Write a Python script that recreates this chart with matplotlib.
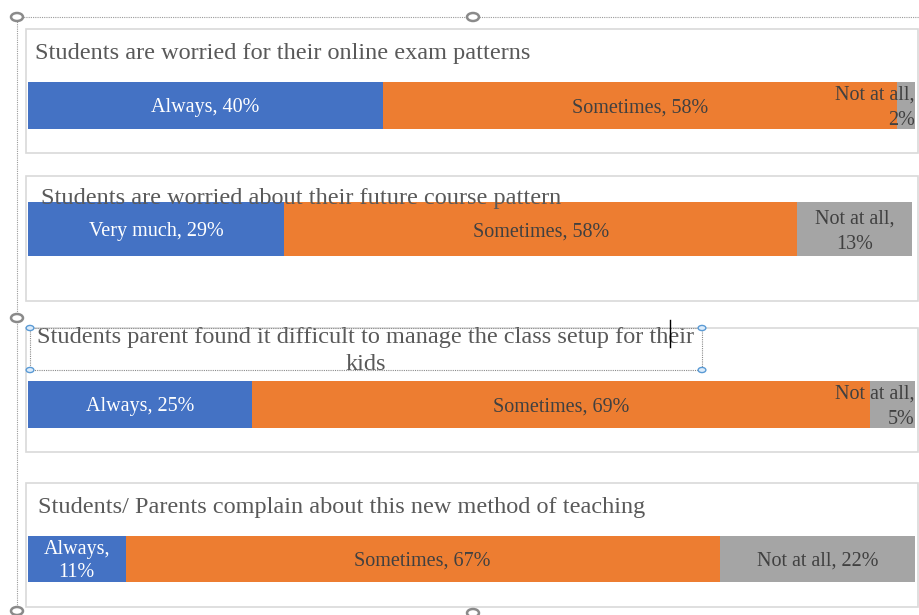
import matplotlib.pyplot as plt
from matplotlib.patches import Rectangle, Circle
from matplotlib.lines import Line2D

W, H = 920, 615

BLUE = "#4472C4"
ORANGE = "#ED7D31"
GRAY = "#A5A5A5"
TXT = "#595959"
LBL = "#404040"

TITLES = [
    "Students are worried for their online exam patterns",
    "Students are worried about their future course pattern",
    "Students parent found it difficult to manage the class setup for their\nkids",
    "Students/ Parents complain about this new method of teaching",
]
FIRST_NAMES = ["Always", "Very much", "Always", "Always"]
ALWAYS = [40, 29, 25, 11]
SOMETIMES = [58, 58, 69, 67]
NOT_AT_ALL = [2, 13, 5, 22]

# pixel layout of each panel: box top/bottom, bar top/bottom/right, title (x, y, ha)
BOXES = [(29, 153), (176, 301), (328, 452), (483, 607)]
BARS = [(82, 129, 915), (202, 256, 912), (381, 428, 915), (536, 582, 915)]
TITLE_POS = [(35, 54, "left"), (41, 199, "left"), (366, 351, "center"), (38, 507, "left")]

plt.rcParams["font.family"] = ["Liberation Serif", "DejaVu Serif"]

fig = plt.figure(figsize=(W / 100, H / 100), dpi=100)


def fx(x):
    return x / W


def fy(y):
    return 1 - y / H


# selection frame of the document (dotted)
fig.add_artist(Line2D([fx(17), fx(920)], [fy(17), fy(17)], transform=fig.transFigure,
                      color="#9a9a9a", lw=0.8, ls=(0, (1, 1))))
fig.add_artist(Line2D([fx(17), fx(17)], [fy(17), fy(615)], transform=fig.transFigure,
                      color="#9a9a9a", lw=0.8, ls=(0, (1, 1))))

LS = 1.45
DY = -0.05  # labels sit slightly below the bar centre
for i in range(4):
    top, bot = BOXES[i]
    fig.add_artist(Rectangle((fx(26), fy(bot)), fx(918) - fx(26), fy(top) - fy(bot),
                             transform=fig.transFigure, fill=True, facecolor="white",
                             edgecolor="#d9d9d9", lw=1.2, zorder=1))

    btop, bbot, bright = BARS[i]
    ax = fig.add_axes([fx(28), fy(bbot), fx(bright) - fx(28), fy(btop) - fy(bbot)], zorder=2)
    a, s, n = ALWAYS[i], SOMETIMES[i], NOT_AT_ALL[i]
    total = a + s + n
    ax.barh(0, a, left=0, height=1, color=BLUE, edgecolor="none")
    ax.barh(0, s, left=a, height=1, color=ORANGE, edgecolor="none")
    ax.barh(0, n, left=a + s, height=1, color=GRAY, edgecolor="none")
    ax.set_xlim(0, total)
    ax.set_ylim(-0.5, 0.5)
    ax.axis("off")

    # data labels
    if a > 15:
        ax.text(a / 2, DY, f"{FIRST_NAMES[i]}, {a}%", ha="center", va="center",
                color="white", fontsize=14.5)
    else:
        ax.text(a / 2, DY, f"{FIRST_NAMES[i]},\n{a}%", ha="center", va="center",
                color="white", fontsize=14.5, linespacing=1.3)
    ax.text(a + s / 2, DY, f"Sometimes, {s}%", ha="center", va="center", color=LBL, fontsize=14.5)
    if n > 20:
        ax.text(a + s + n / 2, DY, f"Not at all, {n}%", ha="center", va="center",
                color=LBL, fontsize=14.5)
    elif n > 10:
        ax.text(a + s + n / 2, DY, f"Not at all,\n{n}%", ha="center", va="center",
                color=LBL, fontsize=14.5, linespacing=LS)
    else:
        ax.text(total * 0.9995, DY, f"Not at all,\n{n}%", ha="right", va="center",
                color=LBL, fontsize=14.5, linespacing=LS, clip_on=False)

    tx, ty, ha = TITLE_POS[i]
    t = fig.text(fx(tx), fy(ty), TITLES[i], ha=ha, va="center", color=TXT,
                 fontsize=17.5, linespacing=1.35, zorder=5)
    if i == 2:
        clip = Rectangle((0, fy(430)), 1, fy(327) - fy(430), transform=fig.transFigure)
        t.set_clip_path(clip)

# title text box of the third chart, selected (dotted with blue handles)
fig.add_artist(Rectangle((fx(30), fy(370)), fx(702) - fx(30), fy(328) - fy(370),
                         transform=fig.transFigure, fill=False, edgecolor="#8a8a8a",
                         lw=0.8, ls=(0, (1, 1)), zorder=6))
for hx, hy in [(30, 328), (702, 328), (30, 370), (702, 370)]:
    fig.add_artist(Circle((fx(hx), fy(hy)), 0.0042, transform=fig.transFigure,
                          facecolor="#dcecfb", edgecolor="#5b9bd5", lw=1, zorder=7))
fig.add_artist(Line2D([fx(670), fx(670)], [fy(320), fy(347)], transform=fig.transFigure,
                      color="black", lw=1, zorder=7))

# grey sizing handles of the outer frame
for hx, hy in [(17, 17), (473, 17), (17, 318), (17, 611), (473, 613)]:
    fig.add_artist(Circle((fx(hx), fy(hy)), 0.0065, transform=fig.transFigure,
                          facecolor="white", edgecolor="#8a8a8a", lw=1.8, zorder=8))

fig.savefig("out.png", dpi=100)
